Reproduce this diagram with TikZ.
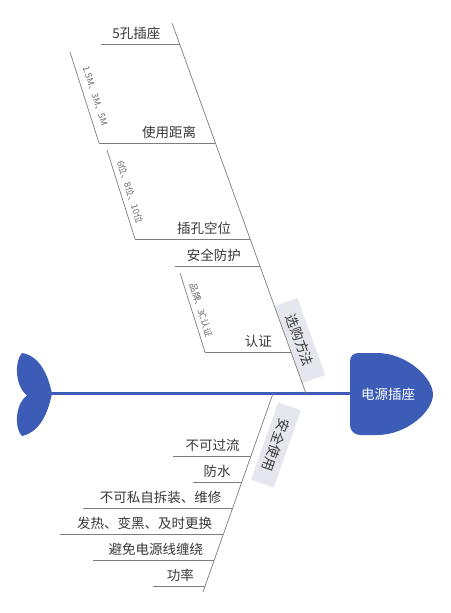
\documentclass[tikz,border=0pt]{standalone}
\usepackage{fontspec}
\setmainfont{Noto Sans CJK SC}
\definecolor{fishblue}{RGB}{60,92,184}
\definecolor{bonegray}{RGB}{125,125,125}
\definecolor{txtgray}{RGB}{55,55,55}
\definecolor{smallgray}{RGB}{105,105,105}
\definecolor{labelbg}{RGB}{230,230,238}
\tikzset{
  topic/.style={anchor=east, inner sep=0pt, font=\fontsize{13.5}{16}\selectfont, text=txtgray},
  subtxt/.style={rotate=-72.4, inner sep=0pt, font=\fontsize{9}{10}\selectfont, text=smallgray},
  bone/.style={draw=bonegray, line width=0.7pt},
  catbox/.style={fill=labelbg, minimum width=82pt, minimum height=24pt, inner sep=0pt,
                 font=\fontsize{13.5}{16}\selectfont, text=txtgray},
  spine/.style={draw=fishblue, line width=2.6pt}
}
\begin{document}
\begin{tikzpicture}[x=1pt,y=-1pt]
\useasboundingbox (0,0) rectangle (450,613);
% ---------- tail ----------
\coordinate (tailJ) at (52,393.5);
\fill[fishblue] (tailJ) .. controls (48,375) and (40,356) .. (22,353)
  .. controls (15,360) and (14,385) .. (27,395.5)
  .. controls (14,405) and (15,430) .. (22,436)
  .. controls (40,432) and (48,413) .. (tailJ) -- cycle;
% ---------- head ----------
\fill[fishblue] (350,361) arc[start angle=180, end angle=270, radius=8]
  -- (377,353) .. controls (407,353) and (433,378) .. (433,394.5)
  .. controls (433,411) and (407,435) .. (377,435)
  -- (360,435) arc[start angle=90, end angle=180, radius=10]
  -- cycle;
\coordinate (headW) at (350,393.5);
\node[text=white, inner sep=0pt, font=\fontsize{13.5}{16}\selectfont] (head) at (388,394.5) {电源插座};
% ---------- spine ----------
\draw[spine] (tailJ) -- (headW);
% ---------- category boxes ----------
\node[catbox, rotate=-70.1] (catA) at (300,340.5) {选购方法};
\node[catbox, rotate=-109.4] (catB) at (276,445) {安全使用};
% ---------- main bones ----------
\coordinate (upTop) at (172,23);
\coordinate (upBot) at (306,393.5);
\coordinate (loTop) at (273,393.5);
\coordinate (loBot) at (203,592);
\draw[bone] (upTop) -- (upBot);
\draw[bone] (loTop) -- (loBot);
% ---------- upper branch points ----------
\coordinate (uA) at (179.6,44);
\coordinate (uB) at (215.4,143);
\coordinate (uC) at (250.2,239);
\coordinate (uD) at (260,266);
\coordinate (uE) at (291.1,352);
\coordinate (uAl) at (101,44);
\coordinate (uBl) at (99,143);
\coordinate (uCl) at (135,239);
\coordinate (uDl) at (175,266);
\coordinate (uEl) at (205,352);
\draw[bone] (uAl) -- (uA);
\draw[bone] (uBl) -- (uB);
\draw[bone] (uCl) -- (uC);
\draw[bone] (uDl) -- (uD);
\draw[bone] (uEl) -- (uE);
\node[topic] (tA) at (160.6,33) {5孔插座};
\node[topic] (tB) at (196.4,132) {使用距离};
\node[topic] (tC) at (231.2,228) {插孔空位};
\node[topic] (tD) at (241,255) {安全防护};
\node[topic] (tE) at (272.1,341) {认证};
% ---------- sub-bones ----------
\coordinate (sBt) at (70,52);
\coordinate (sCt) at (107,150);
\coordinate (sEt) at (180,273);
\draw[bone] (sBt) -- (uBl);
\draw[bone] (sCt) -- (uCl);
\draw[bone] (sEt) -- (uEl);
\node[subtxt] (sB) at (95,96) {1.5M、3M、5M};
\node[subtxt] (sC) at (130,192) {6位、8位、10位};
\node[subtxt] (sE) at (201,310) {品牌、3C认证};
% ---------- lower branch points ----------
\coordinate (lA) at (250.8,456);
\coordinate (lB) at (241.7,482);
\coordinate (lC) at (232.5,508);
\coordinate (lD) at (223.4,534);
\coordinate (lE) at (214.2,560);
\coordinate (lF) at (205.1,586);
\coordinate (lAl) at (173,456);
\coordinate (lBl) at (193,482);
\coordinate (lCl) at (83,508);
\coordinate (lDl) at (60,534);
\coordinate (lEl) at (93,560);
\coordinate (lFl) at (153,586);
\draw[bone] (lAl) -- (lA);
\draw[bone] (lBl) -- (lB);
\draw[bone] (lCl) -- (lC);
\draw[bone] (lDl) -- (lD);
\draw[bone] (lEl) -- (lE);
\draw[bone] (lFl) -- (lF);
\node[topic] (bA) at (239.8,445) {不可过流};
\node[topic] (bB) at (230.7,471) {防水};
\node[topic] (bC) at (221.5,497) {不可私自拆装、维修};
\node[topic] (bD) at (212.4,523) {发热、变黑、及时更换};
\node[topic] (bE) at (203.2,549) {避免电源线缠绕};
\node[topic] (bF) at (194.1,575) {功率};
\end{tikzpicture}
\end{document}
